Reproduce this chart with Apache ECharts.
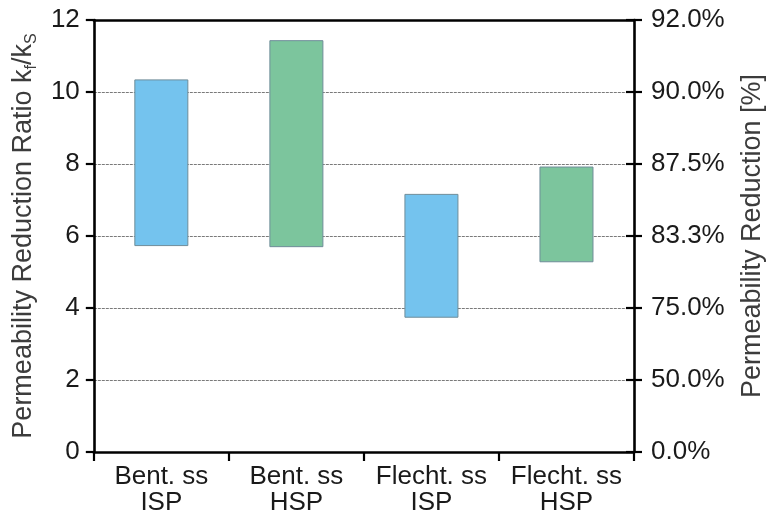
<!DOCTYPE html>
<html>
<head>
<meta charset="utf-8">
<script src="https://cdn.jsdelivr.net/npm/echarts@6/dist/echarts.min.js"></script>
<style>
  html, body { margin: 0; padding: 0; background: #fff; }
  #chart { width: 776px; height: 519px; }
</style>
</head>
<body>
<div id="chart"></div>
<script>
// Sample groups (two-line category labels)
const categories = ['Bent. ss\nISP', 'Bent. ss\nHSP', 'Flecht. ss\nISP', 'Flecht. ss\nHSP'];
// Range of the permeability reduction ratio kf/ks per group
const ratioLow  = [5.72, 5.69, 3.73, 5.27];
const ratioHigh = [10.35, 11.44, 7.17, 7.93];
// Left-axis ticks and the matching permeability reduction shown on the right
const ratioTicks = [0, 2, 4, 6, 8, 10, 12];
const reductionLabels = ['0.0%', '50.0%', '75.0%', '83.3%', '87.5%', '90.0%', '92.0%'];
// Fill colour per group: ISP blue, HSP green
const groupColors = ['#74c3ee', '#7cc59d', '#74c3ee', '#7cc59d'];

const FONT = 'Liberation Sans, Arial, sans-serif';
const INK = '#1a1a1a';
const AXIS = { lineStyle: { color: '#000', width: 2.6 } };

const chart = echarts.init(document.getElementById('chart'), null, { renderer: 'canvas' });

const option = {
  animation: false,
  backgroundColor: '#fff',
  grid: { left: 92, right: 141, top: 20, bottom: 67, containLabel: false },
  xAxis: [
    {
      type: 'category',
      data: categories,
      boundaryGap: true,
      axisLine: Object.assign({ show: true, onZero: false }, AXIS),
      axisTick: { show: true, length: 9, lineStyle: { color: '#000', width: 2.2 } },
      axisLabel: { fontFamily: FONT, fontSize: 26, color: INK, lineHeight: 26, margin: 12, interval: 0 }
    },
    {
      type: 'category',
      data: categories,
      position: 'top',
      axisLine: Object.assign({ show: true, onZero: false }, AXIS),
      axisTick: { show: false },
      axisLabel: { show: false }
    }
  ],
  yAxis: [
    {
      type: 'value',
      min: ratioTicks[0],
      max: ratioTicks[ratioTicks.length - 1],
      interval: 2,
      position: 'left',
      name: 'Permeability Reduction Ratio k{sub|f}/k{sub|S}',
      nameLocation: 'middle',
      nameRotate: 90,
      nameGap: 46,
      nameTextStyle: {
        fontFamily: FONT, fontSize: 27, color: '#3c3c3c', lineHeight: 32,
        rich: { sub: { fontFamily: FONT, fontSize: 16, color: '#3c3c3c', lineHeight: 16, verticalAlign: 'bottom' } }
      },
      axisLine: Object.assign({ show: true, onZero: false }, AXIS),
      axisTick: { show: true, length: 8, lineStyle: { color: '#000', width: 2.2 } },
      axisLabel: { fontFamily: FONT, fontSize: 26, color: INK, margin: 14 },
      splitLine: { show: true, lineStyle: { color: '#7a7a7a', width: 1, type: [3, 1] } }
    },
    {
      type: 'value',
      min: ratioTicks[0],
      max: ratioTicks[ratioTicks.length - 1],
      interval: 2,
      position: 'right',
      name: 'Permeability Reduction [%]',
      nameLocation: 'middle',
      nameRotate: 90,
      nameGap: 104,
      nameTextStyle: { fontFamily: FONT, fontSize: 27, color: '#3c3c3c', lineHeight: 30 },
      axisLine: Object.assign({ show: true, onZero: false }, AXIS),
      axisTick: { show: true, length: 8, lineStyle: { color: '#000', width: 2.2 } },
      axisLabel: {
        fontFamily: FONT, fontSize: 26, color: INK, margin: 17,
        formatter: function (v) {
          const i = ratioTicks.indexOf(v);
          return i >= 0 ? reductionLabels[i] : '';
        }
      },
      splitLine: { show: false }
    },
    {
      // inner half of the crossing ticks on the right axis
      type: 'value',
      min: ratioTicks[0],
      max: ratioTicks[ratioTicks.length - 1],
      interval: 2,
      position: 'right',
      offset: 0,
      axisLine: { show: false },
      axisTick: { show: true, inside: true, length: 8, lineStyle: { color: '#000', width: 2.2 } },
      axisLabel: { show: false },
      splitLine: { show: false }
    }
  ],
  series: [
    {
      // invisible base up to the lower bound
      type: 'bar',
      stack: 'range',
      barWidth: '40%',
      silent: true,
      itemStyle: { color: 'transparent' },
      data: ratioLow
    },
    {
      // visible span from lower to upper bound
      type: 'bar',
      stack: 'range',
      barWidth: '40%',
      data: ratioHigh.map(function (h, i) {
        return {
          value: +(h - ratioLow[i]).toFixed(4),
          itemStyle: { color: groupColors[i], borderColor: '#6f8d99', borderWidth: 1 }
        };
      })
    }
  ]
};

chart.setOption(option);
</script>
</body>
</html>
